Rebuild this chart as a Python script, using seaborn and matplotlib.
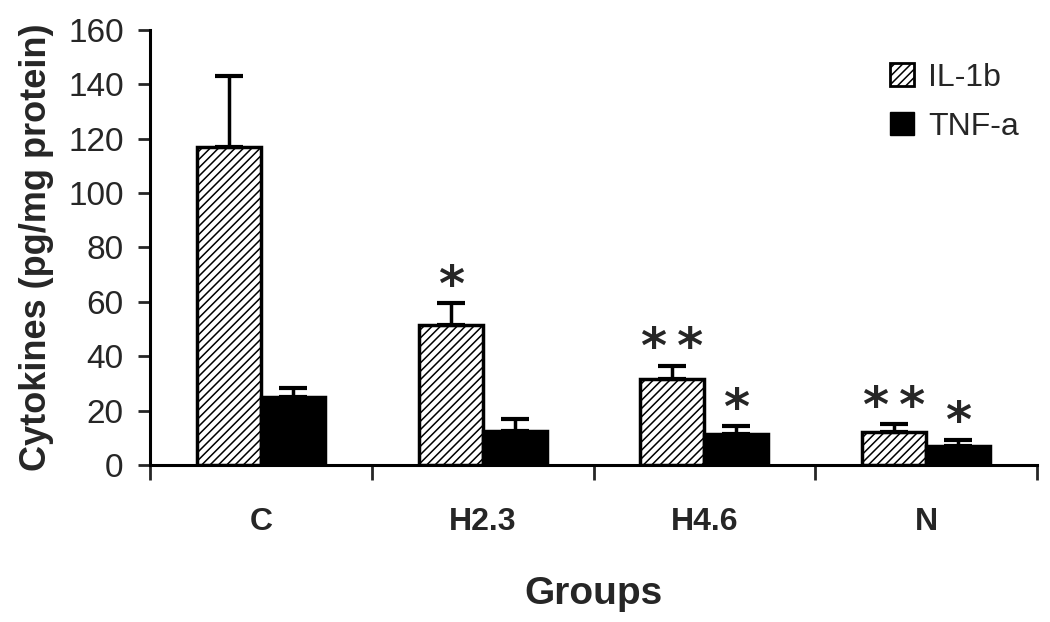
import numpy as np
import pandas as pd
import matplotlib
matplotlib.use('Agg')
import matplotlib.pyplot as plt
import seaborn as sns
from matplotlib.patches import Patch

# Values
groups = ['C', 'H2.3', 'H4.6', 'N']
il1b = [117, 51.5, 31.5, 12]
il1b_err = [26, 8, 5, 3]
tnfa = [25, 12.5, 11.5, 7]
tnfa_err = [3.5, 4.5, 2.7, 2.3]
il1b_stars = ['', '*', '*\u2009*', '*\u2009*']
tnfa_stars = ['', '', '*', '*']
series = ['IL-1b', 'TNF-a']

df = pd.DataFrame({
    'group': groups * 2,
    'value': il1b + tnfa,
    'cytokine': [series[0]] * 4 + [series[1]] * 4,
})

sns.set_style('white')
plt.rcParams['font.family'] = ['Liberation Sans', 'DejaVu Sans']
plt.rcParams['hatch.linewidth'] = 1.1
plt.rcParams['hatch.color'] = '#222222'

fig = plt.figure(figsize=(10.5, 6.22), dpi=100)
ax = fig.add_axes([0.1429, 0.2524, 0.8447, 0.6994])

sns.barplot(data=df, x='group', y='value', hue='cytokine', hue_order=series,
            order=groups, palette=['white', 'black'], width=0.577, gap=0,
            edgecolor='black', linewidth=2.5, errorbar=None, legend=False, ax=ax)

# hatch IL-1b bars, add upper error bars and stars
for i, (cont, vals, errs, stars) in enumerate(zip(ax.containers, [il1b, tnfa],
                                                  [il1b_err, tnfa_err],
                                                  [il1b_stars, tnfa_stars])):
    xs = [p.get_x() + p.get_width() / 2 for p in cont.patches]
    if i == 0:
        for p in cont.patches:
            p.set_hatch('////')
    ax.errorbar(xs, vals, yerr=[np.zeros(len(vals)), errs], fmt='none',
                ecolor='black', elinewidth=2.5, capsize=10, capthick=3, zorder=1)
    for x, v, e, s in zip(xs, vals, errs, stars):
        if s:
            ax.text(x, v + e + 6, s, ha='center', va='center', fontsize=36,
                    fontweight='bold', fontfamily='DejaVu Sans')

ax.set_ylim(0, 160)
ax.set_xlim(-0.5, 3.5)
ax.set_yticks(np.arange(0, 161, 20))
ax.tick_params(axis='y', direction='out', length=9, width=2, labelsize=24, pad=10, left=True)
ax.set_xticks(range(4))
ax.set_xticklabels(groups, fontweight='bold')
ax.set_xticks(np.arange(-0.5, 3.6, 1), minor=True)
ax.tick_params(axis='x', which='major', length=0, labelsize=23, pad=30)
ax.tick_params(axis='x', which='minor', direction='out', length=11, width=2, bottom=True)

for side in ['top', 'right']:
    ax.spines[side].set_visible(False)
for side in ['left', 'bottom']:
    ax.spines[side].set_linewidth(2.2)
    ax.spines[side].set_color('black')

ax.set_xlabel('Groups', fontsize=28, fontweight='bold', labelpad=28)
ax.set_ylabel('Cytokines (pg/mg protein)', fontsize=26, fontweight='bold', labelpad=10)

handles = [Patch(facecolor='white', edgecolor='black', hatch='////', linewidth=2, label=series[0]),
           Patch(facecolor='black', edgecolor='black', label=series[1])]
ax.legend(handles=handles, loc='upper left', bbox_to_anchor=(0.832, 0.925),
          bbox_transform=fig.transFigure, frameon=False, fontsize=23,
          handlelength=0.75, handleheight=0.75, handletextpad=0.45,
          labelspacing=0.6, borderpad=0)

fig.savefig('out.png', dpi=100)
